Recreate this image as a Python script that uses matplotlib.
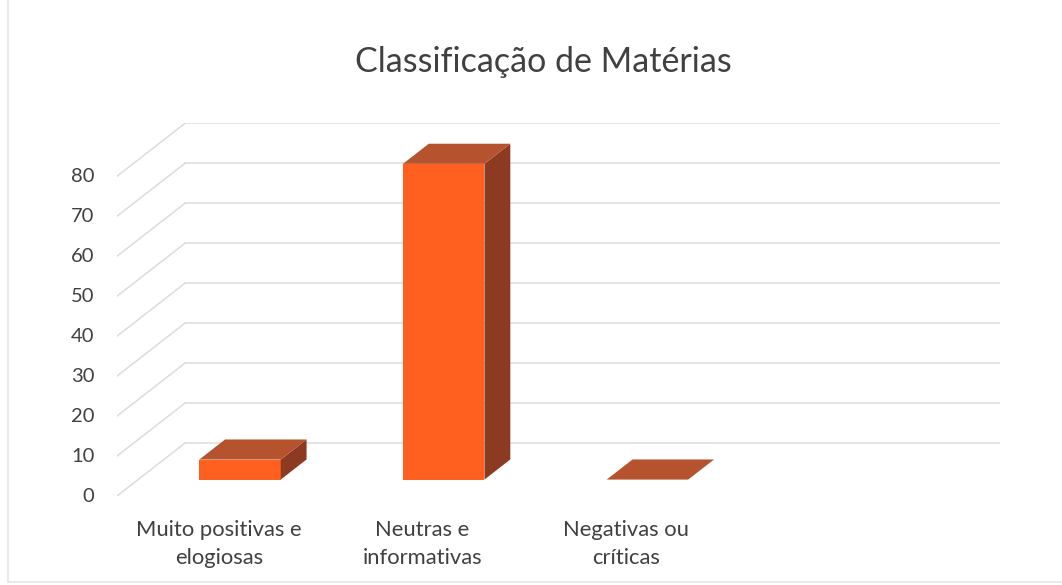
import numpy as np
import matplotlib
matplotlib.use('Agg')
import matplotlib.pyplot as plt
from matplotlib.patches import Polygon

plt.rcParams['font.family'] = ['Lato', 'DejaVu Sans']

# data
categories = ['Muito positivas e\nelogiosas', 'Neutras e\ninformativas', 'Negativas ou\ncríticas', '']
values = [5, 79, 0]
yticks = [0, 10, 20, 30, 40, 50, 60, 70, 80]
title = 'Classificação de Matérias'

# 3d look (oblique projection), in data units
DX = 0.334        # depth shift along x (categories)
DY = 13.25        # depth shift along y (value units)
z0, z1 = 0.31, 0.69   # bar front / back depth fraction
bw = 0.40             # bar width in category units

front_col = '#ff5f1f'
top_col = '#b4532d'
side_col = '#8c3a22'
grid_col = '#dcdcdc'
text_col = '#404040'

W, H = 1062, 585
fig = plt.figure(figsize=(W / 100, H / 100), dpi=100)
ax = fig.add_axes([117 / W, (H - 496) / H, (1000 - 117) / W, (496 - 123.3) / H])
ncat = len(categories)
ax.set_xlim(0, ncat + DX)
ax.set_ylim(0, yticks[-1] + DY)
ax.axis('off')


def p(x, z, y):
    return (x + z * DX, y + z * DY)


# back wall and side wall gridlines
for v in yticks:
    ax.plot([DX, ncat + DX], [v + DY, v + DY], color=grid_col, lw=1.1, zorder=1)
    ax.plot([0, DX], [v, v + DY], color=grid_col, lw=1.1, zorder=1)
    ax.text(-0.11, v, str(v), ha='right', va='center', fontsize=14.5, color=text_col)

# bars
for i, v in enumerate(values):
    x0 = i + 0.5 - bw / 2
    x1 = i + 0.5 + bw / 2
    if v > 0:
        front = [p(x0, z0, 0), p(x1, z0, 0), p(x1, z0, v), p(x0, z0, v)]
        side = [p(x1, z0, 0), p(x1, z1, 0), p(x1, z1, v), p(x1, z0, v)]
        ax.add_patch(Polygon(front, closed=True, fc=front_col, ec='none', zorder=3))
        ax.add_patch(Polygon(side, closed=True, fc=side_col, ec='none', zorder=3))
    top = [p(x0, z0, v), p(x1, z0, v), p(x1, z1, v), p(x0, z1, v)]
    ax.add_patch(Polygon(top, closed=True, fc=top_col, ec='none', zorder=3))

# category labels
for i, lab in enumerate(categories):
    ax.text(i + 0.5, -5.9, lab, ha='center', va='top', fontsize=15.8,
            color=text_col, linespacing=1.5, multialignment='center')

fig.text(543 / W, 1 - 62 / H, title, ha='center', va='center', fontsize=24.5, color=text_col)

# faint chart border
fig.add_artist(plt.Line2D([8 / W, 8 / W], [3 / H, 1], color='#e6e6e6', lw=1.2))
fig.add_artist(plt.Line2D([8 / W, 1], [3 / H, 3 / H], color='#e6e6e6', lw=1.2))

fig.savefig('out.png', dpi=100)
